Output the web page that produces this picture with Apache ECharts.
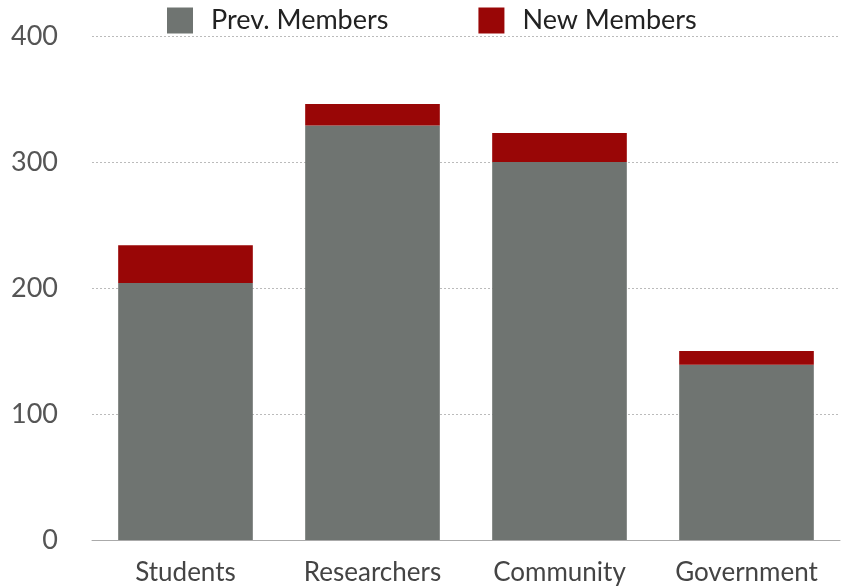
<!DOCTYPE html>
<html>
<head>
<meta charset="utf-8">
<script src="https://cdn.jsdelivr.net/npm/echarts@6/dist/echarts.min.js"></script>
<style>html,body{margin:0;padding:0;background:#fff}#c{width:850px;height:588px}</style>
</head>
<body>
<div id="c"></div>
<script>
const categories = ['Students', 'Researchers', 'Community', 'Government'];
const prevMembers = [204, 329, 300, 139];
const newMembers = [30, 17, 23, 11];
const yTicks = [0, 100, 200, 300, 400];

const chart = echarts.init(document.getElementById('c'));
const font = 'Lato';
chart.setOption({
  animation: false,
  legend: {
    top: 2, left: 162,
    itemWidth: 26, itemHeight: 26, itemGap: 90,
    icon: 'rect',
    textStyle: { fontFamily: font, fontSize: 27, color: '#222', padding: [0, 0, 0, 13] },
    data: ['Prev. Members', 'New Members']
  },
  grid: { left: 92, right: 10, top: 36, bottom: 48 },
  xAxis: {
    type: 'category', data: categories,
    axisLine: { lineStyle: { color: '#aaa', width: 1 } },
    axisTick: { show: false },
    axisLabel: { fontFamily: font, fontSize: 26, color: '#444', margin: 20, interval: 0, hideOverlap: false }
  },
  yAxis: {
    type: 'value', min: yTicks[0], max: yTicks[yTicks.length - 1], interval: 100,
    axisLine: { show: false }, axisTick: { show: false },
    splitLine: { lineStyle: { color: '#bbb', type: [2, 2], width: 1 } },
    axisLabel: { fontFamily: font, fontSize: 27, color: '#555', margin: 34 }
  },
  series: [
    { name: 'Prev. Members', type: 'bar', stack: 't', data: prevMembers, barCategoryGap: '28%', itemStyle: { color: '#6f7471' } },
    { name: 'New Members', type: 'bar', stack: 't', data: newMembers, itemStyle: { color: '#990606' } }
  ]
});
</script>
</body>
</html>
